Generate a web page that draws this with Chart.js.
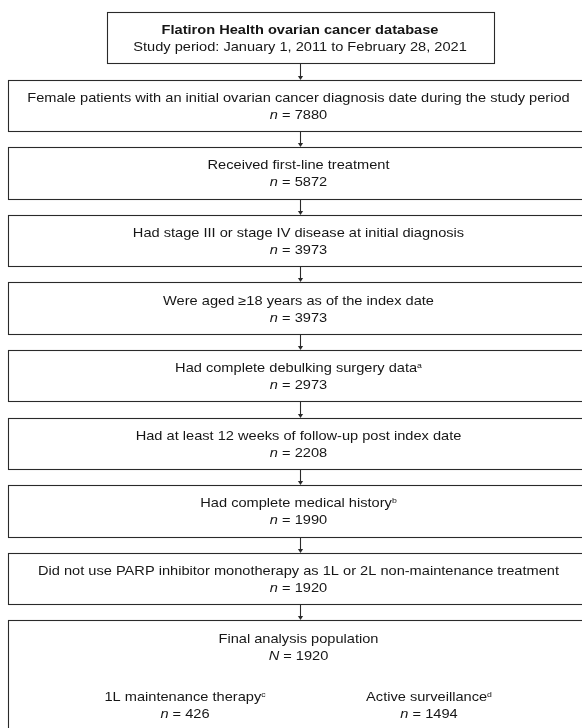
<!DOCTYPE html>
<html>
<head>
<meta charset="utf-8">
<script src="https://cdn.jsdelivr.net/npm/chart.js@4/dist/chart.umd.min.js"></script>
<style>
  html, body { margin: 0; padding: 0; background: #ffffff; }
  #wrap { position: relative; width: 582px; height: 728px; }
</style>
</head>
<body>
<div id="wrap"><canvas id="c"></canvas></div>
<script>
// ---- Data ----
const headerTitle = 'Flatiron Health ovarian cancer database';
const headerSubtitle = 'Study period: January 1, 2011 to February 28, 2021';
const stepLabels = [
  'Flatiron Health ovarian cancer database',
  'Female patients with an initial ovarian cancer diagnosis date during the study period',
  'Received first-line treatment',
  'Had stage III or stage IV disease at initial diagnosis',
  'Were aged \u226518 years as of the index date',
  'Had complete debulking surgery data',
  'Had at least 12 weeks of follow-up post index date',
  'Had complete medical history',
  'Did not use PARP inhibitor monotherapy as 1L or 2L non-maintenance treatment',
  'Final analysis population'
];
const stepCounts = [null, 7880, 5872, 3973, 3973, 2973, 2208, 1990, 1920, 1920];
const stepCountSymbols = ['', 'n', 'n', 'n', 'n', 'n', 'n', 'n', 'n', 'N'];
const stepNotes = ['', '', '', '', '', 'a', '', 'b', '', ''];
const cohortLabels = ['1L maintenance therapy', 'Active surveillance'];
const cohortNotes = ['c', 'd'];
const cohortCounts = [426, 1494];

// ---- Drawing helpers ----
const FAMILY = '"Liberation Sans", Arial, Helvetica, sans-serif';
const FS = 12.6;      // font size
const SX = 1.16;      // horizontal stretch of the type
const INK = '#161616';

function font(style, size) { return style + ' ' + size + 'px ' + FAMILY; }

// pieces: [{t, style, size, dy}]
function drawPieces(ctx, pieces, cx, baseline) {
  let total = 0;
  pieces.forEach(p => { ctx.font = font(p.style || 'normal', p.size || FS); p.w = ctx.measureText(p.t).width; total += p.w; });
  ctx.save();
  ctx.translate(cx, baseline);
  ctx.scale(SX, 1);
  ctx.textAlign = 'left';
  ctx.textBaseline = 'alphabetic';
  ctx.fillStyle = INK;
  let x = -total / 2;
  pieces.forEach(p => {
    ctx.font = font(p.style || 'normal', p.size || FS);
    ctx.fillText(p.t, x, p.dy || 0);
    x += p.w;
  });
  ctx.restore();
}

function labelPieces(label, note, bold) {
  const arr = [{ t: label, style: bold ? 'bold' : 'normal' }];
  if (note) arr.push({ t: note, size: 7.5, dy: -4.5 });
  return arr;
}
function countPieces(sym, val) {
  return [{ t: sym, style: 'italic' }, { t: ' = ' + val }];
}

const flowPlugin = {
  id: 'flow',
  afterDraw(chart) {
    const ctx = chart.ctx;
    const ys = chart.scales.y;
    const xs = chart.scales.px;
    const half = 25.7;
    const boxes = stepLabels.map((lab, i) => {
      const cy = ys.getPixelForValue(i);
      const wide = i > 0;
      const left = xs.getPixelForValue(wide ? 8 : 107);
      const right = xs.getPixelForValue(wide ? 592 : 494);
      const top = cy - half;
      const bottom = i === stepLabels.length - 1 ? chart.height + 20 : cy + half;
      return { cy, left, right, top, bottom, wide };
    });

    ctx.save();
    ctx.fillStyle = '#ffffff';
    ctx.strokeStyle = '#2a2a2a';
    ctx.lineWidth = 1.1;
    boxes.forEach(b => {
      const l = Math.round(b.left) + 0.5, t = Math.round(b.top) + 0.5;
      const r = Math.round(b.right) + 0.5, btm = Math.round(b.bottom) + 0.5;
      ctx.fillRect(l, t, r - l, btm - t);
      ctx.strokeRect(l, t, r - l, btm - t);
    });

    // arrows
    const ax = Math.round(xs.getPixelForValue(300)) + 0.5;
    ctx.fillStyle = '#2a2a2a';
    for (let i = 0; i < boxes.length - 1; i++) {
      const y0 = Math.round(boxes[i].bottom) + 0.5;
      const y1 = Math.round(boxes[i + 1].top);
      ctx.beginPath();
      ctx.moveTo(ax, y0);
      ctx.lineTo(ax, y1 - 3);
      ctx.stroke();
      ctx.beginPath();
      ctx.moveTo(ax - 2.6, y1 - 4);
      ctx.lineTo(ax + 2.6, y1 - 4);
      ctx.lineTo(ax, y1);
      ctx.closePath();
      ctx.fill();
    }
    ctx.restore();

    // texts
    boxes.forEach((b, i) => {
      const cx = xs.getPixelForValue(b.wide ? 298.5 : 300);
      if (i === 0) {
        drawPieces(ctx, labelPieces(headerTitle, '', true), cx, b.cy - 3.5);
        drawPieces(ctx, [{ t: headerSubtitle }], cx, b.cy + 13.5);
      } else {
        drawPieces(ctx, labelPieces(stepLabels[i], stepNotes[i], false), cx, b.cy - 3.5);
        drawPieces(ctx, countPieces(stepCountSymbols[i], stepCounts[i]), cx, b.cy + 13.5);
      }
    });

    // cohorts in final box
    const last = boxes[boxes.length - 1];
    const colX = [185, 429];
    cohortLabels.forEach((lab, k) => {
      const x = xs.getPixelForValue(colX[k]);
      drawPieces(ctx, labelPieces(lab, cohortNotes[k], false), x, last.top + 81);
      drawPieces(ctx, countPieces('n', cohortCounts[k]), x, last.top + 98);
    });
  }
};

new Chart(document.getElementById('c'), {
  type: 'bar',
  data: {
    labels: stepLabels,
    datasets: [{
      label: 'Patients',
      data: stepCounts,
      xAxisID: 'n',
      backgroundColor: 'rgba(0,0,0,0)',
      borderWidth: 0
    }]
  },
  options: {
    indexAxis: 'y',
    responsive: true,
    maintainAspectRatio: false,
    animation: false,
    events: [],
    layout: { padding: { top: 3.9, bottom: 48.1, left: 0, right: 0 } },
    plugins: { legend: { display: false }, tooltip: { enabled: false } },
    scales: {
      y: { type: 'category', display: false, offset: true },
      n: { type: 'linear', axis: 'x', display: false, min: 0 },
      px: { type: 'linear', axis: 'x', display: false, min: 0, max: 582 }
    }
  },
  plugins: [flowPlugin]
});
</script>
</body>
</html>
